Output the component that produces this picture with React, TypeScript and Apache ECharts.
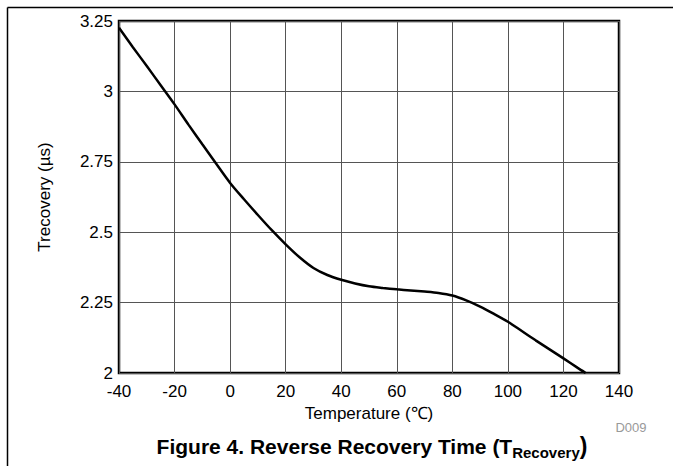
import React, { useEffect, useRef } from "react";
import * as echarts from "echarts";

const temps = [-40, -35, -30, -25, -20, -15, -10, -5, 0, 5, 10, 15, 20, 25, 30, 35, 40, 45, 50, 55, 60, 65, 70, 75, 80, 85, 90, 95, 100, 105, 110, 115, 120, 125, 128];
const trecovery = [3.226, 3.157, 3.09, 3.022, 2.954, 2.882, 2.812, 2.743, 2.675, 2.617, 2.561, 2.507, 2.457, 2.411, 2.373, 2.348, 2.331, 2.318, 2.308, 2.302, 2.297, 2.293, 2.289, 2.284, 2.275, 2.258, 2.236, 2.21, 2.182, 2.149, 2.116, 2.084, 2.052, 2.019, 2.0];

const xTicks = { min: -40, max: 140, interval: 20 };
const yTicks = { min: 2, max: 3.25, interval: 0.25 };

const FONT = "Liberation Sans, Arial, sans-serif";

export default function App() {
  const ref = useRef<HTMLDivElement>(null);
  useEffect(() => {
    if (!ref.current) return;
    const chart = echarts.init(ref.current, null, { renderer: "svg" });
    const data = temps.map((t, i) => [t, trecovery[i]]);
    chart.setOption({
      animation: false,
      backgroundColor: "#ffffff",
      textStyle: { fontFamily: FONT },
      grid: {
        left: 119,
        top: 21,
        width: 500,
        height: 352,
        show: true,
        borderColor: "#000",
        borderWidth: 2.5,
        containLabel: false,
      },
      xAxis: {
        type: "value",
        min: xTicks.min,
        max: xTicks.max,
        interval: xTicks.interval,
        name: "Temperature (\u2103)",
        nameLocation: "middle",
        nameGap: 29,
        nameTextStyle: { fontSize: 17, color: "#000", fontFamily: FONT },
        axisLine: { show: false },
        axisTick: { show: false },
        axisLabel: { fontSize: 17, color: "#000", margin: 10, fontFamily: FONT },
        splitLine: { show: true, lineStyle: { color: "#555", width: 1 } },
      },
      yAxis: {
        type: "value",
        min: yTicks.min,
        max: yTicks.max,
        interval: yTicks.interval,
        name: "Trecovery (\u00b5s)",
        nameLocation: "middle",
        nameGap: 66,
        nameRotate: 90,
        nameTextStyle: { fontSize: 17, color: "#000", fontFamily: FONT },
        axisLine: { show: false },
        axisTick: { show: false },
        axisLabel: { fontSize: 17, color: "#000", margin: 6, fontFamily: FONT },
        splitLine: { show: true, lineStyle: { color: "#555", width: 1 } },
      },
      series: [
        {
          type: "line",
          data,
          showSymbol: false,
          symbol: "none",
          smooth: 0.3,
          lineStyle: { color: "#000", width: 2.5 },
          z: 5,
        },
      ],
      graphic: [
        {
          type: "line",
          shape: { x1: 7.5, y1: 7.5, x2: 673, y2: 7.5 },
          style: { stroke: "#000", lineWidth: 1.5 },
        },
        {
          type: "line",
          shape: { x1: 7.5, y1: 7.5, x2: 7.5, y2: 466 },
          style: { stroke: "#000", lineWidth: 1.5 },
        },
        {
          type: "text",
          x: 631,
          y: 427,
          style: {
            text: "D009",
            fontSize: 13,
            fill: "#999",
            fontFamily: FONT,
            align: "center",
            verticalAlign: "middle",
          },
        },
        {
          type: "text",
          x: 372,
          y: 445,
          style: {
            text: "{a|Figure 4. Reverse Recovery Time (T}{b|Recovery}{c|)}",
            align: "center",
            verticalAlign: "middle",
            fontFamily: FONT,
            rich: {
              a: { fontSize: 21, fontWeight: "bold", fill: "#000", fontFamily: FONT, lineHeight: 24, verticalAlign: "bottom" },
              b: { fontSize: 15, fontWeight: "bold", fill: "#000", fontFamily: FONT, lineHeight: 24, verticalAlign: "bottom", padding: [0, 0, -3, 0] },
              c: { fontSize: 23, fontWeight: "bold", fill: "#000", fontFamily: FONT, lineHeight: 24, verticalAlign: "bottom" },
            },
          },
        },
      ],
    });
    return () => chart.dispose();
  }, []);
  return (
    <div
      ref={ref}
      style={{ position: "fixed", left: 0, top: 0, width: 673, height: 466 }}
    />
  );
}
